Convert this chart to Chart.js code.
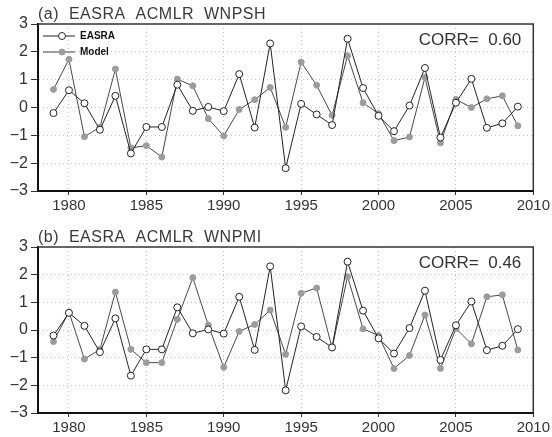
<!DOCTYPE html>
<html>
<head>
<meta charset="utf-8">
<script src="https://cdn.jsdelivr.net/npm/chart.js@4.4.0/dist/chart.umd.min.js"></script>
<style>
    body { margin: 0; background: #fff; }
    canvas { display: block; }
</style>
</head>
<body>
<canvas id="bieudoa" width="552" height="218"></canvas>
<canvas id="bieudob" width="552" height="219"></canvas>
<script>
const years = [1979, 1980, 1981, 1982, 1983, 1984, 1985, 1986, 1987, 1988,
    1989, 1990, 1991, 1992, 1993, 1994, 1995, 1996, 1997, 1998,
    1999, 2000, 2001, 2002, 2003, 2004, 2005, 2006, 2007, 2008, 2009];

const easra = [-0.2, 0.62, 0.15, -0.8, 0.42, -1.65, -0.7, -0.7, 0.82, -0.12,
    0.02, -0.13, 1.2, -0.72, 2.3, -2.18, 0.13, -0.25, -0.63, 2.47,
    0.7, -0.3, -0.85, 0.07, 1.42, -1.08, 0.17, 1.03, -0.73, -0.57, 0.03];

const modelWnpsh = [0.65, 1.73, -1.05, -0.71, 1.38, -1.45, -1.37, -1.78, 1.02, 0.78,
    -0.4, -1.02, -0.07, 0.28, 0.72, -0.71, 1.63, 0.8, -0.28, 1.86,
    0.17, -0.22, -1.19, -1.06, 1.08, -1.27, 0.29, 0.0, 0.31, 0.42, -0.66];

const modelWnpmi = [-0.42, 0.65, -1.05, -0.7, 1.37, -0.7, -1.18, -1.18, 0.39, 1.89,
    0.18, -1.35, -0.05, 0.2, 0.72, -0.88, 1.33, 1.52, -0.65, 1.93,
    0.04, -0.2, -1.39, -0.92, 0.54, -1.39, 0.05, -0.5, 1.2, 1.27, -0.72];

const seriesNames = ['EASRA', 'Model'];
const xTicks = [1980, 1985, 1990, 1995, 2000, 2005, 2010];
const yTicks = [-3, -2, -1, 0, 1, 2, 3];

function toPoints(values) {
    return values.map(function (v, i) {
        return { x: years[i], y: v };
    });
}

// khung, tieu de, CORR, chu thich
var decorPlugin = {
    id: 'decor',
    afterDraw: function (chart, args, opts) {
        var ctx = chart.ctx;
        var a = chart.chartArea;
        ctx.save();

        ctx.strokeStyle = '#333';
        ctx.lineWidth = 1.5;
        ctx.beginPath();
        ctx.moveTo(a.left, a.top);
        ctx.lineTo(a.right, a.top);
        ctx.lineTo(a.right, a.bottom);
        ctx.stroke();

        ctx.fillStyle = '#3a3a3a';
        ctx.textBaseline = 'alphabetic';
        ctx.textAlign = 'left';
        ctx.font = '16px "Liberation Sans"';
        ctx.letterSpacing = '0.5px';
        ctx.fillText(opts.title, a.left, a.top - 5);
        ctx.letterSpacing = '0px';

        ctx.fillStyle = '#333';
        ctx.textAlign = 'right';
        ctx.font = '17px "Liberation Sans"';
        ctx.fillText('CORR=  ' + opts.corr, a.right - 12, a.top + 21);

        if (opts.legend) {
            chart.data.datasets.forEach(function (ds, i) {
                var y = a.top + 12 + i * 16;
                ctx.strokeStyle = ds.borderColor;
                ctx.lineWidth = 1;
                ctx.beginPath();
                ctx.moveTo(a.left + 5, y);
                ctx.lineTo(a.left + 37, y);
                ctx.stroke();
                ctx.beginPath();
                ctx.arc(a.left + 24, y, ds.pointRadius, 0, Math.PI * 2);
                ctx.fillStyle = ds.pointBackgroundColor;
                ctx.fill();
                ctx.strokeStyle = ds.pointBorderColor;
                ctx.stroke();
                ctx.fillStyle = '#111';
                ctx.textAlign = 'left';
                ctx.textBaseline = 'middle';
                ctx.font = 'bold 10px "Liberation Sans"';
                ctx.fillText(ds.label, a.left + 42, y);
            });
        }
        ctx.restore();
    }
};

function makeScales(xHeight) {
    return {
        x: {
            type: 'linear',
            min: 1978,
            max: 2010,
            afterBuildTicks: function (s) {
                s.ticks = xTicks.map(function (v) { return { value: v }; });
            },
            afterFit: function (s) { s.height = xHeight; },
            grid: {
                color: function (c) {
                    return (c.tick && c.tick.value === 2010) ? 'rgba(0,0,0,0)' : '#c4c4c4';
                },
                lineWidth: 1,
                tickLength: 4,
                tickColor: '#333',
                tickBorderDash: []
            },
            border: { display: true, color: '#111', width: 2, dash: [1, 3] },
            ticks: {
                padding: 2,
                color: '#333',
                maxRotation: 0,
                autoSkip: false,
                font: { family: 'Liberation Sans', size: 15 },
                callback: function (v) { return String(v); }
            }
        },
        y: {
            min: -3,
            max: 3,
            afterBuildTicks: function (s) {
                s.ticks = yTicks.map(function (v) { return { value: v }; });
            },
            afterFit: function (s) { s.width = 38; },
            grid: {
                color: function (c) {
                    return (c.tick && Math.abs(c.tick.value) === 3) ? 'rgba(0,0,0,0)' : '#c4c4c4';
                },
                lineWidth: 1,
                tickLength: 7,
                tickColor: '#333',
                tickBorderDash: []
            },
            border: { display: true, color: '#111', width: 2, dash: [1, 3] },
            ticks: {
                padding: 3,
                color: '#333',
                font: { family: 'Liberation Sans', size: 16 },
                callback: function (v) { return v < 0 ? '\u2212' + Math.abs(v) : String(v); }
            }
        }
    };
}

function makeDatasets(model) {
    return [{
        label: seriesNames[0],
        data: toPoints(easra),
        borderColor: '#222',
        borderWidth: 1,
        pointRadius: 3.5,
        pointBackgroundColor: '#fff',
        pointBorderColor: '#222',
        pointBorderWidth: 1,
        tension: 0,
        fill: false
    }, {
        label: seriesNames[1],
        data: toPoints(model),
        borderColor: '#474747',
        borderWidth: 1,
        pointRadius: 3,
        pointBackgroundColor: '#9c9c9c',
        pointBorderColor: '#9c9c9c',
        pointBorderWidth: 1,
        tension: 0,
        fill: false
    }];
}

new Chart(document.getElementById('bieudoa'), {
    type: 'line',
    data: { datasets: makeDatasets(modelWnpsh) },
    options: {
        responsive: false,
        animation: false,
        events: [],
        layout: { padding: { top: 24, right: 17, left: 0, bottom: 0 } },
        scales: makeScales(27),
        plugins: {
            legend: { display: false },
            tooltip: { enabled: false },
            decor: { title: '(a)  EASRA  ACMLR  WNPSH', corr: '0.60', legend: true }
        }
    },
    plugins: [decorPlugin]
});

new Chart(document.getElementById('bieudob'), {
    type: 'line',
    data: { datasets: makeDatasets(modelWnpmi) },
    options: {
        responsive: false,
        animation: false,
        events: [],
        layout: { padding: { top: 29, right: 17, left: 0, bottom: 0 } },
        scales: makeScales(24),
        plugins: {
            legend: { display: false },
            tooltip: { enabled: false },
            decor: { title: '(b)  EASRA  ACMLR  WNPMI', corr: '0.46', legend: false }
        }
    },
    plugins: [decorPlugin]
});
</script>
</body>
</html>
